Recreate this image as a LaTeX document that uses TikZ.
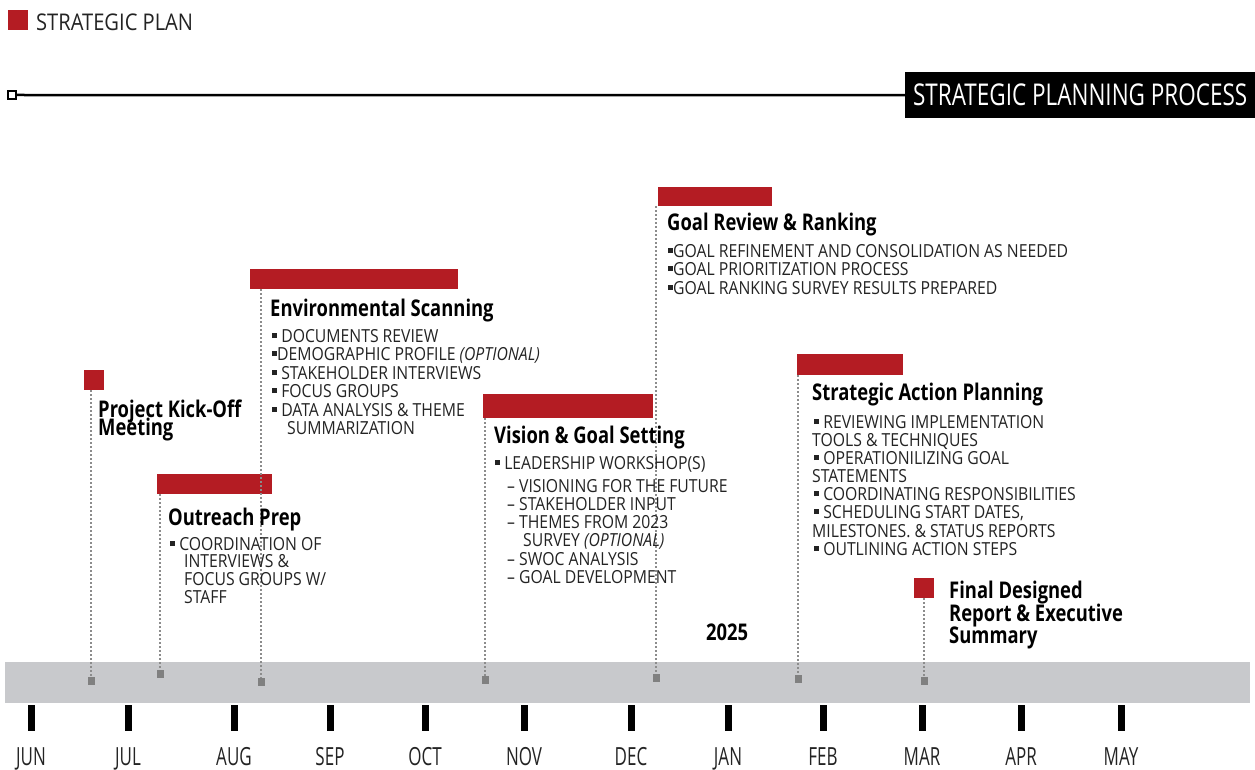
\documentclass[tikz,border=0pt]{standalone}
\usepackage{fontspec}
\setmainfont{Open Sans}
\newfontfamily\txfam[FakeStretch=0.875]{Open Sans}
\newfontfamily\hdfam[FakeStretch=0.8]{Open Sans}
\newfontfamily\monfam[FakeStretch=0.68]{Open Sans}
\newfontfamily\titfam[FakeStretch=0.75]{Open Sans}
\newcommand\txf{\txfam\fontsize{18}{18}\selectfont}
\newcommand\hdf{\hdfam\bfseries\fontsize{23}{23}\selectfont}
\newcommand\monf{\monfam\fontsize{25}{25}\selectfont}
\newcommand\titf{\titfam\fontsize{30}{30}\selectfont}
\newcommand\lgf{\txfam\fontsize{23}{23}\selectfont}
\newcommand\bl{\rule[4pt]{5pt}{5pt}}
\definecolor{sred}{RGB}{180,28,35}
\definecolor{band}{RGB}{200,201,204}
\definecolor{mkgray}{RGB}{128,128,128}
\definecolor{dotgray}{RGB}{140,140,140}
\definecolor{txgray}{RGB}{35,35,35}
\tikzset{
  bar/.style={fill=sred, draw=none, anchor=north west, inner sep=0pt},
  mk/.style={fill=mkgray, draw=none, minimum width=7pt, minimum height=8pt, inner sep=0pt},
  dl/.style={draw=dotgray, line width=1.6pt, dash pattern=on 1.6pt off 2.4pt},
  hd/.style={anchor=base west, inner sep=0pt, font=\hdf},
  tx/.style={anchor=base west, inner sep=0pt, font=\txf, text=txgray},
  tk/.style={fill=black, draw=none, minimum width=7pt, minimum height=26pt, inner sep=0pt, anchor=north},
  mon/.style={anchor=base, inner sep=0pt, font=\monf, text=txgray},
}
\begin{document}
\begin{tikzpicture}[x=1pt,y=-1pt]
\useasboundingbox (0,0) rectangle (1255,770);
% legend
\node[bar, minimum width=20pt, minimum height=20pt] (lg) at (8,10) {};
\node[anchor=base west, inner sep=0pt, font=\lgf, text=txgray] (lgt) at (36,31) {STRATEGIC PLAN};
% top line and title
\node[fill=black, text=white, anchor=north west, minimum width=350pt, minimum height=46pt, inner sep=0pt, font=\titf] (title) at (905,72) {STRATEGIC PLANNING PROCESS};
\node[draw=black, line width=1.5pt, fill=white, minimum size=8pt, inner sep=0pt] (sq) at (12,95) {};
\draw[line width=2.5pt] (sq.east) -- (title.west);
% band
\fill[band] (5,662) rectangle (1250,703);
% ticks and months
\foreach \x/\m/\n in {31/JUN/t1,128/JUL/t2,234/AUG/t3,330/SEP/t4,425/OCT/t5,524/NOV/t6,631/DEC/t7,728/JAN/t8,823/FEB/t9,922/MAR/t10,1021/APR/t11,1121/MAY/t12}{
  \node[tk] (\n) at (\x,705) {};
  \node[mon] (\n l) at (\x,765) {\m};
}
% markers
\node[mk] (m1) at (91,681) {};
\node[mk] (m2) at (160,674) {};
\node[mk] (m3) at (261,682) {};
\node[mk] (m4) at (485,680) {};
\node[mk] (m5) at (656,678) {};
\node[mk] (m6) at (798,679) {};
\node[mk] (m7) at (924,681) {};
% bars
\node[bar, minimum width=20pt, minimum height=20pt] (b1) at (84,370) {};
\node[bar, minimum width=115pt, minimum height=20pt] (b2) at (157,474) {};
\node[bar, minimum width=208pt, minimum height=20pt] (b3) at (250,269) {};
\node[bar, minimum width=170pt, minimum height=24pt] (b4) at (483,394) {};
\node[bar, minimum width=114pt, minimum height=19pt] (b5) at (658,187) {};
\node[bar, minimum width=106pt, minimum height=21pt] (b6) at (797,354) {};
\node[bar, minimum width=20pt, minimum height=20pt] (b7) at (914,578) {};
% dotted connectors
\draw[dl] (m1 |- b1.south) -- (m1);
\draw[dl] (m2 |- b2.south) -- (m2);
\draw[dl] (m3 |- b3.south) -- (m3);
\draw[dl] (m4 |- b4.south) -- (m4);
\draw[dl] (m5 |- b5.south) -- (m5);
\draw[dl] (m6 |- b6.south) -- (m6);
\draw[dl] (m7 |- b7.south) -- (m7);
% Project kick-off
\node[hd] (k1) at (98,417) {Project Kick-Off};
\node[hd] (k2) at (98,435) {Meeting};
% Outreach prep
\node[hd] (oh) at (168,525) {Outreach Prep};
\node[tx] (o1) at (170,550) {\bl\ COORDINATION OF};
\node[tx] (o2) at (184,567) {INTERVIEWS \&};
\node[tx] (o3) at (184,585) {FOCUS GROUPS W/};
\node[tx] (o4) at (184,603) {STAFF};
% Environmental scanning
\node[hd] (eh) at (270,316) {Environmental Scanning};
\node[tx] (e1) at (272,342) {\bl\ DOCUMENTS REVIEW};
\node[tx] (e2) at (272,360) {\bl DEMOGRAPHIC PROFILE {\itshape (OPTIONAL)}};
\node[tx] (e3) at (272,379) {\bl\ STAKEHOLDER INTERVIEWS};
\node[tx] (e4) at (272,397) {\bl\ FOCUS GROUPS};
\node[tx] (e5) at (272,416) {\bl\ DATA ANALYSIS \& THEME};
\node[tx] (e6) at (287,434) {SUMMARIZATION};
% Vision & goal setting
\node[hd] (vh) at (494,443) {Vision \& Goal Setting};
\node[tx] (v1) at (495,469) {\bl\ LEADERSHIP WORKSHOP(S)};
\node[tx] (v2) at (507,492) {– VISIONING FOR THE FUTURE};
\node[tx] (v3) at (507,510) {– STAKEHOLDER INPUT};
\node[tx] (v4) at (507,528) {– THEMES FROM 2023};
\node[tx] (v5) at (523,546) {SURVEY {\itshape (OPTIONAL)}};
\node[tx] (v6) at (507,565) {– SWOC ANALYSIS};
\node[tx] (v7) at (507,583) {– GOAL DEVELOPMENT};
% Goal review
\node[hd] (gh) at (667,230) {Goal Review \& Ranking};
\node[tx] (g1) at (668,257) {\bl GOAL REFINEMENT AND CONSOLIDATION AS NEEDED};
\node[tx] (g2) at (668,275) {\bl GOAL PRIORITIZATION PROCESS};
\node[tx] (g3) at (668,294) {\bl GOAL RANKING SURVEY RESULTS PREPARED};
% Strategic action planning
\node[hd] (sh) at (812,400) {Strategic Action Planning};
\node[tx] (s1) at (814,428) {\bl\ REVIEWING IMPLEMENTATION};
\node[tx] (s2) at (812,446) {TOOLS \& TECHNIQUES};
\node[tx] (s3) at (814,464) {\bl\ OPERATIONILIZING GOAL};
\node[tx] (s4) at (812,482) {STATEMENTS};
\node[tx] (s5) at (814,500) {\bl\ COORDINATING RESPONSIBILITIES};
\node[tx] (s6) at (814,518) {\bl\ SCHEDULING START DATES,};
\node[tx] (s7) at (812,537) {MILESTONES. \& STATUS REPORTS};
\node[tx] (s8) at (814,555) {\bl\ OUTLINING ACTION STEPS};
% year
\node[hd] (yr) at (706,640) {2025};
% Final
\node[hd] (f1) at (949,598) {Final Designed};
\node[hd] (f2) at (949,621) {Report \& Executive};
\node[hd] (f3) at (949,643) {Summary};
\end{tikzpicture}
\end{document}
